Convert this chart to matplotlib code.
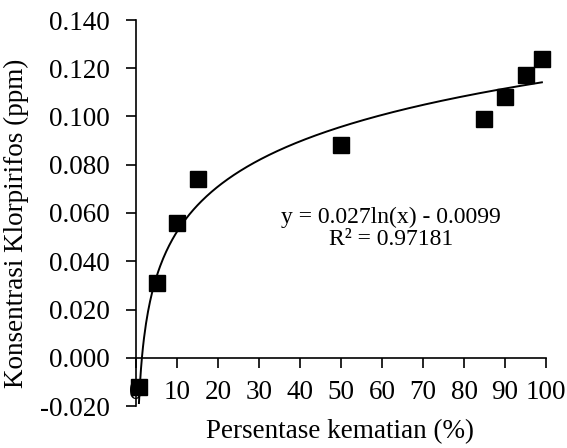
import numpy as np
import matplotlib.pyplot as plt
from matplotlib.ticker import FormatStrFormatter, MultipleLocator

# =========================
# Data
# =========================
kematian = [0.7, 5, 10, 15, 50, 85, 90, 95, 99]
konsentrasi = [-0.012, 0.031, 0.056, 0.074, 0.088, 0.099, 0.108, 0.117, 0.124]

# koefisien trendline logaritmik
a = 0.027
b = -0.0099

plt.rcParams['font.family'] = ['Liberation Serif', 'DejaVu Serif']

fig = plt.figure(figsize=(5.67, 4.48), dpi=100)
ax = fig.add_axes([136/567, 1 - 406/448, 410/567, 386/448])

# trendline
xs = np.linspace(0.72, 99, 400)
ax.plot(xs, a * np.log(xs) + b, color='black', lw=1.4, zorder=3)

# titik data
ax.plot(kematian, konsentrasi, 's', color='black', ms=11.5, zorder=4,
        clip_on=False)

ax.set_xlim(0, 100)
ax.set_ylim(-0.02, 0.14)
ax.xaxis.set_major_locator(MultipleLocator(10))
ax.yaxis.set_major_locator(MultipleLocator(0.02))
ax.yaxis.set_major_formatter(FormatStrFormatter('%.3f'))

ax.spines['top'].set_visible(False)
ax.spines['right'].set_visible(False)
ax.spines['bottom'].set_position(('data', 0))
for s in ['left', 'bottom']:
    ax.spines[s].set_linewidth(1.2)

ax.tick_params(axis='both', direction='out', length=7, width=1.2,
               labelsize=19.5, colors='black')
ax.tick_params(axis='x', pad=9)
ax.tick_params(axis='y', pad=12)

# label sumbu
fig.text(340/567, 1 - 432/448, 'Persentase kematian (%)', fontsize=19.5,
         ha='center', va='center')
fig.text(16/567, 1 - 223/448, 'Konsentrasi Klorpirifos (ppm)', fontsize=19.5,
         ha='center', va='center', rotation=90)

ax.text(62.2, 0.0535, 'y = 0.027ln(x) - 0.0099\nR² = 0.97181',
        ha='center', va='center', fontsize=17, linespacing=1.05)

fig.savefig('out.png', dpi=100)
